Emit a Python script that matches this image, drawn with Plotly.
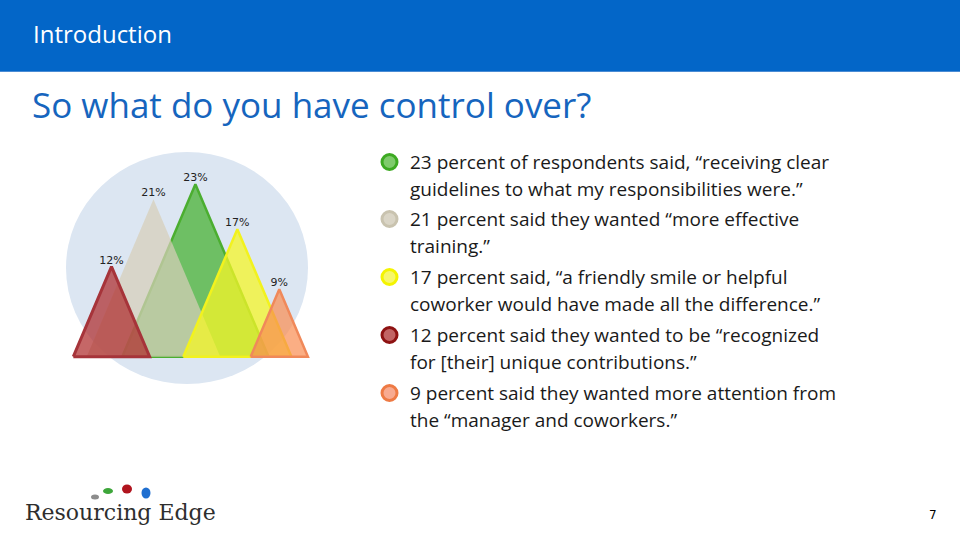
import plotly.graph_objects as go

W, H = 960, 540

# ---------------- data ----------------
categories = ["12%", "21%", "23%", "17%", "9%"]
values = [12, 21, 23, 17, 9]
fill_colors = ["rgba(175,45,45,0.72)", "rgba(215,207,184,0.72)", "rgba(80,180,60,0.78)",
               "rgba(245,245,40,0.75)", "rgba(250,140,80,0.70)"]
line_colors = ["#A6343A", "rgba(0,0,0,0)", "#4BAE30", "#F2F21E", "#F0895A"]
line_widths = [3, 0, 2.5, 2.5, 2.5]
draw_order = [2, 1, 3, 4, 0]

bullet_texts = [
    ["23 percent of respondents said, \u201creceiving clear",
     "guidelines to what my responsibilities were.\u201d"],
    ["21 percent said they wanted \u201cmore effective",
     "training.\u201d"],
    ["17 percent said, \u201ca friendly smile or helpful",
     "coworker would have made all the difference.\u201d"],
    ["12 percent said they wanted to be \u201crecognized",
     "for [their] unique contributions.\u201d"],
    ["9 percent said they wanted more attention from",
     "the \u201cmanager and coworkers.\u201d"],
]
bullet_outer = ["#3DAA22", "#C9C3AF", "#F4F400", "#8E1212", "#EE7A44"]
bullet_inner = ["#7FCB6C", "#DAD5C6", "#F7F76A", "#C26464", "#F8AA90"]

HALF_WIDTH = 0.0758  # triangle half-base per percentage point (x units)


def px(x):
    return x / W


def py(y):
    return 1 - y / H


fig = go.Figure()

for i in draw_order:
    v = values[i]
    xs = [i - HALF_WIDTH * v, i, i + HALF_WIDTH * v, i - HALF_WIDTH * v]
    ys = [0, v, 0, 0]
    fig.add_trace(go.Scatter(
        x=xs, y=ys, mode="lines", fill="toself", fillcolor=fill_colors[i],
        line=dict(color=line_colors[i], width=line_widths[i]),
        hoverinfo="skip", showlegend=False))

fig.add_trace(go.Scatter(
    x=list(range(len(values))), y=values, mode="text", text=categories,
    textposition="top center",
    textfont=dict(family="DejaVu Sans", size=11, color="#222222"),
    hoverinfo="skip", showlegend=False))

shapes = []
# header bar
shapes.append(dict(type="rect", xref="paper", yref="paper", x0=0, x1=1,
                   y0=py(72), y1=1, fillcolor="#0366C8", line=dict(width=0), layer="below"))
shapes.append(dict(type="line", xref="paper", yref="paper", x0=0, x1=1,
                   y0=py(71.5), y1=py(71.5), line=dict(color="#4A8CD4", width=1), layer="below"))
# circle backdrop of the chart
shapes.append(dict(type="circle", xref="paper", yref="paper", x0=px(66), x1=px(308),
                   y0=py(384), y1=py(152), fillcolor="#DCE6F2", line=dict(width=0), layer="below"))

annotations = []
annotations.append(dict(text="Introduction", x=px(31), y=py(33), xref="paper", yref="paper",
                        xanchor="left", yanchor="middle", showarrow=False,
                        font=dict(family="Open Sans", size=24, color="white")))
annotations.append(dict(text="So what do you have control over?", x=px(30), y=py(105),
                        xref="paper", yref="paper", xanchor="left", yanchor="middle",
                        showarrow=False, font=dict(family="Open Sans", size=35, color="#1665BE")))

first_lines = [161, 218, 276, 334, 392]
for k, lines in enumerate(bullet_texts):
    y0 = first_lines[k]
    cy = y0 + 1
    shapes.append(dict(type="circle", xref="paper", yref="paper",
                       x0=px(382), x1=px(397), y0=py(cy + 7.5), y1=py(cy - 7.5),
                       fillcolor=bullet_inner[k], line=dict(color=bullet_outer[k], width=3)))
    for j, t in enumerate(lines):
        annotations.append(dict(text=t, x=px(408), y=py(y0 + 27 * j + 1), xref="paper",
                                yref="paper", xanchor="left", yanchor="middle",
                                showarrow=False,
                                font=dict(family="Open Sans", size=19, color="#1A1A1A")))

# logo
annotations.append(dict(text="Resourcing Edge", x=px(23), y=py(512), xref="paper", yref="paper",
                        xanchor="left", yanchor="middle", showarrow=False,
                        font=dict(family="DejaVu Serif", size=22, color="#2E2E2E")))
for (cx, cy, rx, ry, col) in [(95, 497, 4, 2.5, "#8C8C8C"), (108, 491, 5, 3, "#3DA63A"),
                              (127, 489, 5, 4.5, "#B0141E"), (146, 493, 4.5, 5.5, "#1F6FD0")]:
    shapes.append(dict(type="circle", xref="paper", yref="paper", x0=px(cx - rx), x1=px(cx + rx),
                       y0=py(cy + ry), y1=py(cy - ry), fillcolor=col, line=dict(width=0)))

annotations.append(dict(text="7", x=px(933), y=py(515), xref="paper", yref="paper",
                        xanchor="center", yanchor="middle", showarrow=False,
                        font=dict(family="DejaVu Sans", size=12, color="#000000")))

x_scale = 41.95  # px per category
y_scale = 7.5    # px per percentage point
x0 = -111.5 / x_scale
y0 = -(H - 356.7) / y_scale

fig.update_layout(
    width=W, height=H, autosize=False,
    margin=dict(l=0, r=0, t=0, b=0),
    paper_bgcolor="white", plot_bgcolor="rgba(0,0,0,0)",
    xaxis=dict(range=[x0, x0 + W / x_scale], domain=[0, 1], visible=False, fixedrange=True),
    yaxis=dict(range=[y0, y0 + H / y_scale], domain=[0, 1], visible=False, fixedrange=True),
    shapes=shapes, annotations=annotations, showlegend=False,
)

fig.write_html("out.html", config={"displayModeBar": False})
